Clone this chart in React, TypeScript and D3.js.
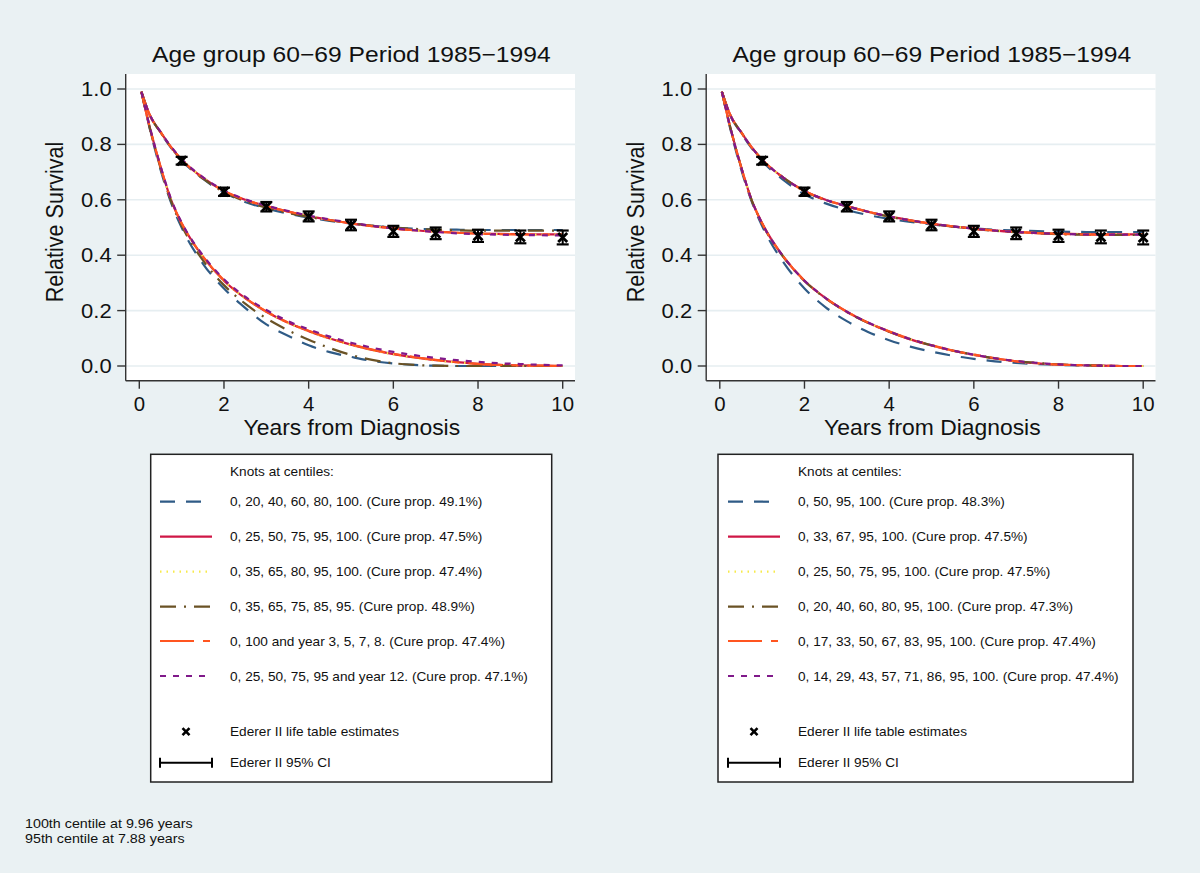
import { line as d3_line, curveMonotoneX, scaleLinear } from "d3";
import type { FC, ReactNode } from "react";

// time grid shared by all fitted curves (years since diagnosis)
const years = [0.05, 0.25, 0.5, 0.75, 1, 1.5, 2, 2.5, 3, 3.5, 4, 4.5, 5, 5.5, 6, 6.5, 7, 7.5, 8, 8.5, 9, 9.5, 10];

// Ederer II life table estimates
const lifeYears = [1, 2, 3, 4, 5, 6, 7, 8, 9, 10];
const ederer = [0.741, 0.629, 0.575, 0.54, 0.509, 0.486, 0.479, 0.47, 0.466, 0.464];
const ciLow = [0.727, 0.614, 0.558, 0.522, 0.49, 0.466, 0.458, 0.448, 0.443, 0.439];
const ciHigh = [0.755, 0.644, 0.592, 0.558, 0.528, 0.506, 0.5, 0.492, 0.489, 0.489];

// left panel: relative survival (all) and survival of the uncured
const leftBlueAll = [0.99, 0.905, 0.843, 0.788, 0.742, 0.676, 0.626, 0.592, 0.569, 0.551, 0.536, 0.524, 0.514, 0.506, 0.5, 0.496, 0.493, 0.492, 0.491, 0.491, 0.491, 0.491, 0.491];
const leftRedAll = [0.99, 0.905, 0.845, 0.79, 0.745, 0.68, 0.632, 0.6, 0.577, 0.558, 0.541, 0.527, 0.515, 0.505, 0.497, 0.49, 0.485, 0.481, 0.478, 0.477, 0.476, 0.475, 0.475];
const leftYellowAll = [0.99, 0.905, 0.845, 0.79, 0.745, 0.68, 0.632, 0.6, 0.577, 0.558, 0.541, 0.527, 0.515, 0.505, 0.497, 0.49, 0.485, 0.481, 0.478, 0.476, 0.475, 0.474, 0.474];
const leftBrownAll = [0.99, 0.905, 0.844, 0.789, 0.743, 0.677, 0.628, 0.595, 0.571, 0.553, 0.538, 0.526, 0.516, 0.507, 0.5, 0.495, 0.492, 0.49, 0.489, 0.489, 0.489, 0.489, 0.489];
const leftOrangeAll = [0.99, 0.905, 0.845, 0.79, 0.745, 0.68, 0.632, 0.6, 0.577, 0.558, 0.541, 0.527, 0.515, 0.505, 0.497, 0.49, 0.485, 0.481, 0.478, 0.476, 0.475, 0.474, 0.474];
const leftPurpleAll = [0.99, 0.906, 0.846, 0.792, 0.747, 0.682, 0.634, 0.602, 0.579, 0.56, 0.543, 0.529, 0.517, 0.506, 0.497, 0.49, 0.484, 0.479, 0.476, 0.474, 0.473, 0.472, 0.471];

const leftBlueUncured = [0.99, 0.855, 0.71, 0.59, 0.5, 0.37, 0.28, 0.21, 0.15, 0.11, 0.075, 0.05, 0.033, 0.018, 0.009, 0.004, 0.001, 0, 0, 0, 0, 0, 0];
const leftRedUncured = [0.99, 0.86, 0.72, 0.6, 0.515, 0.395, 0.308, 0.245, 0.196, 0.157, 0.126, 0.099, 0.077, 0.058, 0.043, 0.031, 0.021, 0.014, 0.008, 0.004, 0.002, 0.001, 0];
const leftYellowUncured = [0.99, 0.86, 0.72, 0.6, 0.515, 0.395, 0.307, 0.244, 0.195, 0.156, 0.125, 0.098, 0.076, 0.057, 0.042, 0.03, 0.02, 0.013, 0.008, 0.004, 0.002, 0.001, 0];
const leftBrownUncured = [0.99, 0.857, 0.715, 0.595, 0.507, 0.382, 0.292, 0.225, 0.172, 0.13, 0.095, 0.065, 0.04, 0.022, 0.01, 0.004, 0.001, 0, 0, 0, 0, 0, 0];
const leftOrangeUncured = [0.99, 0.86, 0.72, 0.6, 0.515, 0.396, 0.309, 0.246, 0.197, 0.158, 0.127, 0.1, 0.078, 0.059, 0.044, 0.032, 0.022, 0.014, 0.008, 0.004, 0.002, 0.001, 0];
const leftPurpleUncured = [0.99, 0.862, 0.722, 0.603, 0.518, 0.4, 0.313, 0.25, 0.202, 0.163, 0.132, 0.106, 0.084, 0.066, 0.051, 0.039, 0.029, 0.021, 0.015, 0.01, 0.007, 0.004, 0.002];

// right panel
const rightBlueAll = [0.99, 0.903, 0.842, 0.787, 0.74, 0.672, 0.62, 0.587, 0.563, 0.545, 0.531, 0.52, 0.511, 0.503, 0.497, 0.492, 0.489, 0.487, 0.485, 0.484, 0.483, 0.483, 0.483];
const rightRedAll = [0.99, 0.905, 0.845, 0.79, 0.745, 0.68, 0.632, 0.6, 0.577, 0.557, 0.54, 0.526, 0.514, 0.504, 0.496, 0.489, 0.484, 0.48, 0.478, 0.476, 0.475, 0.475, 0.475];
const rightYellowAll = [0.99, 0.905, 0.845, 0.79, 0.745, 0.68, 0.632, 0.6, 0.577, 0.557, 0.54, 0.526, 0.514, 0.504, 0.496, 0.489, 0.484, 0.48, 0.478, 0.476, 0.475, 0.475, 0.475];
const rightBrownAll = [0.99, 0.905, 0.845, 0.79, 0.745, 0.68, 0.631, 0.599, 0.576, 0.556, 0.539, 0.525, 0.513, 0.503, 0.495, 0.488, 0.483, 0.479, 0.476, 0.474, 0.473, 0.473, 0.473];
const rightOrangeAll = [0.99, 0.905, 0.845, 0.79, 0.745, 0.68, 0.632, 0.6, 0.577, 0.557, 0.54, 0.526, 0.514, 0.504, 0.496, 0.489, 0.484, 0.48, 0.477, 0.475, 0.474, 0.474, 0.474];
const rightPurpleAll = [0.99, 0.905, 0.845, 0.79, 0.745, 0.68, 0.632, 0.6, 0.577, 0.557, 0.54, 0.526, 0.514, 0.504, 0.496, 0.489, 0.484, 0.48, 0.477, 0.475, 0.474, 0.474, 0.474];

const rightBlueUncured = [0.99, 0.855, 0.712, 0.595, 0.505, 0.375, 0.28, 0.212, 0.162, 0.123, 0.093, 0.07, 0.052, 0.037, 0.026, 0.017, 0.011, 0.007, 0.004, 0.002, 0.001, 0, 0];
const rightRedUncured = [0.99, 0.86, 0.72, 0.6, 0.515, 0.395, 0.308, 0.245, 0.196, 0.156, 0.124, 0.096, 0.074, 0.055, 0.04, 0.027, 0.017, 0.01, 0.005, 0.003, 0.001, 0, 0];
const rightYellowUncured = [0.99, 0.86, 0.72, 0.6, 0.515, 0.395, 0.308, 0.245, 0.196, 0.156, 0.124, 0.096, 0.074, 0.055, 0.04, 0.027, 0.017, 0.01, 0.005, 0.003, 0.001, 0, 0];
const rightBrownUncured = [0.99, 0.86, 0.72, 0.6, 0.514, 0.394, 0.307, 0.244, 0.195, 0.156, 0.124, 0.097, 0.075, 0.056, 0.041, 0.028, 0.018, 0.011, 0.006, 0.003, 0.001, 0, 0];
const rightOrangeUncured = [0.99, 0.86, 0.72, 0.6, 0.515, 0.395, 0.308, 0.245, 0.196, 0.157, 0.125, 0.097, 0.075, 0.056, 0.041, 0.028, 0.017, 0.01, 0.005, 0.003, 0.001, 0, 0];
const rightPurpleUncured = [0.99, 0.86, 0.72, 0.6, 0.515, 0.395, 0.308, 0.245, 0.196, 0.157, 0.125, 0.097, 0.075, 0.056, 0.041, 0.028, 0.018, 0.011, 0.006, 0.003, 0.001, 0, 0];

const leftLabels = [
  "0, 20, 40, 60, 80, 100. (Cure prop. 49.1%)",
  "0, 25, 50, 75, 95, 100. (Cure prop. 47.5%)",
  "0, 35, 65, 80, 95, 100. (Cure prop. 47.4%)",
  "0, 35, 65, 75, 85, 95. (Cure prop. 48.9%)",
  "0, 100 and year 3, 5, 7, 8. (Cure prop. 47.4%)",
  "0, 25, 50, 75, 95 and year 12. (Cure prop. 47.1%)",
];
const rightLabels = [
  "0, 50, 95, 100. (Cure prop. 48.3%)",
  "0, 33, 67, 95, 100. (Cure prop. 47.5%)",
  "0, 25, 50, 75, 95, 100. (Cure prop. 47.5%)",
  "0, 20, 40, 60, 80, 95, 100. (Cure prop. 47.3%)",
  "0, 17, 33, 50, 67, 83, 95, 100. (Cure prop. 47.4%)",
  "0, 14, 29, 43, 57, 71, 86, 95, 100. (Cure prop. 47.4%)",
];

const yTicks = [0, 0.2, 0.4, 0.6, 0.8, 1.0];
const xTicks = [0, 2, 4, 6, 8, 10];
const title = "Age group 60\u221269 Period 1985\u22121994";
const footnotes = ["100th centile at 9.96 years", "95th centile at 7.88 years"];

const styles = [
  { color: "#2f5b86", dash: "15,11" },
  { color: "#cf1746", dash: "" },
  { color: "#f7ea4a", dash: "1.5,5" },
  { color: "#6a5225", dash: "16,8,2,8" },
  { color: "#ff5520", dash: "34,9,7,9" },
  { color: "#80198a", dash: "6,7" },
];

const FONT = "'Liberation Sans', Arial, Helvetica, sans-serif";
const BG = "#eaf1f3";

// text that is a bit wider than the font (the source picture is stretched sideways)
const T: FC<{ x: number; y: number; size: number; sx?: number; anchor?: string; mid?: boolean; children: ReactNode }> = ({
  x,
  y,
  size,
  sx = 1,
  anchor = "start",
  mid,
  children,
}) => (
  <text
    transform={`translate(${x},${y}) scale(${sx},1)`}
    dy={mid ? "0.35em" : undefined}
    textAnchor={anchor}
    fontSize={size}
    fontFamily={FONT}
    fill="#111"
  >
    {children}
  </text>
);

interface PanelProps {
  dx: number;
  all: number[][];
  uncured: number[][];
  labels: string[];
  legend: { left: number; right: number; sampleX0: number; sampleX1: number; textX: number };
}

const Panel: FC<PanelProps> = ({ dx, all, uncured, labels, legend }) => {
  const plotLeft = 125.7 + dx;
  const plotRight = 575 + dx;
  const plotTop = 74;
  const plotBottom = 380.7;
  const x = scaleLinear().domain([0, 10]).range([139.3 + dx, 562.7 + dx]);
  const y = scaleLinear().domain([0, 1]).range([366, 89]);
  const mk = d3_line<number>()
    .x((_, i) => x(years[i]))
    .y((d) => y(d))
    .curve(curveMonotoneX);
  const midX = (plotLeft + plotRight) / 2;
  const rows = [501.7, 536.7, 571.7, 606.7, 641, 676];
  const sampleMid = (legend.sampleX0 + legend.sampleX1) / 2;

  return (
    <g>
      <T x={midX + 1} y={62} size={22} sx={1.12} anchor="middle">
        {title}
      </T>
      <rect x={plotLeft} y={plotTop} width={plotRight - plotLeft} height={plotBottom - plotTop} fill="#fff" />
      {yTicks.map((t) => (
        <line key={t} x1={plotLeft} x2={plotRight} y1={y(t)} y2={y(t)} stroke="#e6eef1" strokeWidth={1.6} />
      ))}
      {/* fitted curves */}
      {all.map((d, i) => (
        <path key={`a${i}`} d={mk(d) ?? ""} fill="none" stroke={styles[i].color} strokeWidth={2.2} strokeDasharray={styles[i].dash} />
      ))}
      {uncured.map((d, i) => (
        <path key={`u${i}`} d={mk(d) ?? ""} fill="none" stroke={styles[i].color} strokeWidth={2.2} strokeDasharray={styles[i].dash} />
      ))}
      {/* life table estimates with CI */}
      {lifeYears.map((t, i) => {
        const cx = x(t);
        const cy = y(ederer[i]);
        return (
          <g key={t} stroke="#000">
            <line x1={cx} x2={cx} y1={y(ciLow[i])} y2={y(ciHigh[i])} strokeWidth={2} />
            <line x1={cx - 6} x2={cx + 6} y1={y(ciLow[i])} y2={y(ciLow[i])} strokeWidth={2.2} />
            <line x1={cx - 6} x2={cx + 6} y1={y(ciHigh[i])} y2={y(ciHigh[i])} strokeWidth={2.2} />
            <path d={`M${cx - 4.5},${cy - 4.5}L${cx + 4.5},${cy + 4.5}M${cx - 4.5},${cy + 4.5}L${cx + 4.5},${cy - 4.5}`} strokeWidth={2.8} />
          </g>
        );
      })}
      {/* axes */}
      <line x1={plotLeft} x2={plotLeft} y1={plotTop} y2={plotBottom} stroke="#333" strokeWidth={1.4} />
      <line x1={plotLeft} x2={plotRight} y1={plotBottom} y2={plotBottom} stroke="#333" strokeWidth={1.4} />
      {yTicks.map((t) => (
        <g key={t}>
          <line x1={plotLeft - 8.5} x2={plotLeft} y1={y(t)} y2={y(t)} stroke="#333" strokeWidth={1.4} />
          <T x={plotLeft - 14} y={y(t)} size={20} sx={1.1} anchor="end" mid>
            {t.toFixed(1)}
          </T>
        </g>
      ))}
      {xTicks.map((t) => (
        <g key={t}>
          <line x1={x(t)} x2={x(t)} y1={plotBottom} y2={plotBottom + 8} stroke="#333" strokeWidth={1.4} />
          <T x={x(t)} y={410.7} size={20} sx={1.02} anchor="middle">
            {t}
          </T>
        </g>
      ))}
      <T x={midX + 1.5} y={435} size={22} sx={1.04} anchor="middle">
        Years from Diagnosis
      </T>
      <text
        transform={`translate(${63 + dx},222) rotate(-90) scale(0.98,1.1)`}
        textAnchor="middle"
        fontSize={22}
        fontFamily={FONT}
        fill="#111"
      >
        Relative Survival
      </text>

      {/* legend */}
      <rect x={legend.left} y={454.3} width={legend.right - legend.left} height={327.7} fill="#fff" stroke="#222" strokeWidth={1.5} />
      <T x={legend.textX} y={471} size={13} sx={1.05} mid>
        Knots at centiles:
      </T>
      {labels.map((lab, i) => (
        <g key={lab}>
          <line x1={legend.sampleX0} x2={legend.sampleX1} y1={rows[i]} y2={rows[i]} stroke={styles[i].color} strokeWidth={2.2} strokeDasharray={styles[i].dash} />
          <T x={legend.textX} y={rows[i]} size={13} sx={1.05} mid>
            {lab}
          </T>
        </g>
      ))}
      <path
        d={`M${sampleMid - 3.5},${731.7 - 3.5}L${sampleMid + 3.5},${731.7 + 3.5}M${sampleMid - 3.5},${731.7 + 3.5}L${sampleMid + 3.5},${731.7 - 3.5}`}
        stroke="#000"
        strokeWidth={2.6}
      />
      <T x={legend.textX} y={731.7} size={13} sx={1.05} mid>
        Ederer II life table estimates
      </T>
      <g stroke="#000" strokeWidth={2}>
        <line x1={legend.sampleX0} x2={legend.sampleX1} y1={762.7} y2={762.7} />
        <line x1={legend.sampleX0} x2={legend.sampleX0} y1={757.7} y2={767.7} />
        <line x1={legend.sampleX1} x2={legend.sampleX1} y1={757.7} y2={767.7} />
      </g>
      <T x={legend.textX} y={762.7} size={13} sx={1.05} mid>
        Ederer II 95% CI
      </T>
    </g>
  );
};

export default function App() {
  return (
    <svg width={1200} height={873} style={{ position: "absolute", left: 0, top: 0 }}>
      <rect width={1200} height={873} fill={BG} />
      <Panel
        dx={0}
        all={[leftBlueAll, leftRedAll, leftYellowAll, leftBrownAll, leftOrangeAll, leftPurpleAll]}
        uncured={[leftBlueUncured, leftRedUncured, leftYellowUncured, leftBrownUncured, leftOrangeUncured, leftPurpleUncured]}
        labels={leftLabels}
        legend={{ left: 150.7, right: 551.7, sampleX0: 160, sampleX1: 212, textX: 230 }}
      />
      <Panel
        dx={580.5}
        all={[rightBlueAll, rightRedAll, rightYellowAll, rightBrownAll, rightOrangeAll, rightPurpleAll]}
        uncured={[rightBlueUncured, rightRedUncured, rightYellowUncured, rightBrownUncured, rightOrangeUncured, rightPurpleUncured]}
        labels={rightLabels}
        legend={{ left: 718, right: 1133, sampleX0: 728, sampleX1: 780, textX: 798 }}
      />
      {footnotes.map((f, i) => (
        <T key={f} x={25} y={828 + i * 15} size={13} sx={1.1}>
          {f}
        </T>
      ))}
    </svg>
  );
}
